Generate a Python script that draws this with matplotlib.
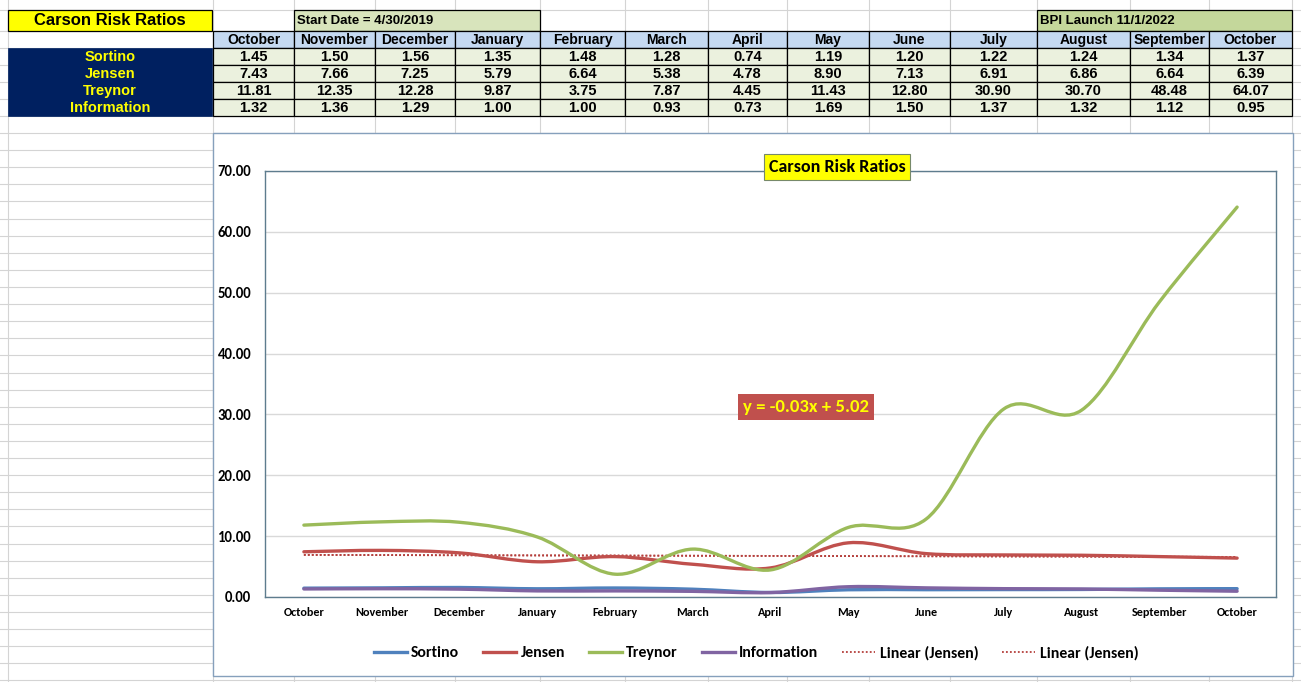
import numpy as np
import matplotlib
matplotlib.use("Agg")
import matplotlib.pyplot as plt
from matplotlib.path import Path
from matplotlib.patches import PathPatch, Rectangle
from matplotlib.lines import Line2D
import logging
logging.getLogger("matplotlib.font_manager").setLevel(logging.ERROR)

# ---------------- data ----------------
months = ["October", "November", "December", "January", "February", "March", "April",
          "May", "June", "July", "August", "September", "October"]
sortino = [1.45, 1.50, 1.56, 1.35, 1.48, 1.28, 0.74, 1.19, 1.20, 1.22, 1.24, 1.34, 1.37]
jensen = [7.43, 7.66, 7.25, 5.79, 6.64, 5.38, 4.78, 8.90, 7.13, 6.91, 6.86, 6.64, 6.39]
treynor = [11.81, 12.35, 12.28, 9.87, 3.75, 7.87, 4.45, 11.43, 12.80, 30.90, 30.70, 48.48, 64.07]
information = [1.32, 1.36, 1.29, 1.00, 1.00, 0.93, 0.73, 1.69, 1.50, 1.37, 1.32, 1.12, 0.95]
row_names = ["Sortino", "Jensen", "Treynor", "Information"]
sheet_title = "Carson Risk Ratios"
start_note = "Start Date = 4/30/2019"
bpi_note = "BPI Launch 11/1/2022"
chart_title = "Carson Risk Ratios"
trend_label = "y = -0.03x + 5.02"
yticks = [0, 10, 20, 30, 40, 50, 60, 70]

series = [("Sortino", sortino, "#4F81BD"),
          ("Jensen", jensen, "#C0504D"),
          ("Treynor", treynor, "#9BBB59"),
          ("Information", information, "#8064A2")]

CHART_FONT = ["Carlito", "Lato", "DejaVu Sans"]
TABLE_FONT = ["Liberation Sans Narrow", "Liberation Sans", "DejaVu Sans"]

W, H = 1301, 682
fig = plt.figure(figsize=(W / 100, H / 100), dpi=100)
fig.patch.set_facecolor("white")

# ---------------- spreadsheet background ----------------
bg = fig.add_axes([0, 0, 1, 1], zorder=0)
bg.set_xlim(0, W)
bg.set_ylim(H, 0)
bg.axis("off")

col_x = [213, 294, 375, 455, 540, 625, 708, 787, 869, 950, 1037, 1130, 1209, 1292]
grid_c = "#D4D4D4"
row_top = 9.5
row1_bot = 30.5
rh = 17.1
hlines = [row_top, row1_bot]
y = row1_bot
while y < H:
    y += rh
    hlines.append(y)
for yy in hlines:
    bg.plot([0, W], [yy, yy], color=grid_c, lw=0.8, zorder=0)
for xx in [8] + col_x:
    bg.plot([xx, xx], [0, H], color=grid_c, lw=0.8, zorder=0)

# title cells row
bg.add_patch(Rectangle((8, row_top), 204, row1_bot - row_top, facecolor="#FFFF00",
                       edgecolor="black", lw=0.9, zorder=2))
bg.text(110, (row_top + row1_bot) / 2 + 0.5, sheet_title, ha="center", va="center",
        fontsize=12, fontweight="bold", family=TABLE_FONT, zorder=3)
bg.add_patch(Rectangle((294, row_top), 246, row1_bot - row_top, facecolor="#D8E4BC",
                       edgecolor="black", lw=0.9, zorder=2))
bg.text(297, (row_top + row1_bot) / 2 + 1, start_note, ha="left", va="center",
        fontsize=9.5, fontweight="bold", family=TABLE_FONT, zorder=3)
bg.add_patch(Rectangle((1037, row_top), 255, row1_bot - row_top, facecolor="#C4D79B",
                       edgecolor="black", lw=0.9, zorder=2))
bg.text(1040, (row_top + row1_bot) / 2 + 1, bpi_note, ha="left", va="center",
        fontsize=9.5, fontweight="bold", family=TABLE_FONT, zorder=3)

# header row
hy0 = row1_bot
for i, m in enumerate(months):
    x0, x1 = col_x[i], col_x[i + 1]
    bg.add_patch(Rectangle((x0, hy0), x1 - x0, rh, facecolor="#C5D9F1",
                           edgecolor="black", lw=0.9, zorder=2))
    bg.text((x0 + x1) / 2, hy0 + rh / 2 + 0.5, m, ha="center", va="center",
            fontsize=10, fontweight="bold", family=TABLE_FONT, zorder=3)

# data rows
data_rows = [sortino, jensen, treynor, information]
dy0 = hy0 + rh
bg.add_patch(Rectangle((8, dy0), 204, rh * 4, facecolor="#002060",
                       edgecolor="#002060", lw=0.5, zorder=2))
for r, (name, vals) in enumerate(zip(row_names, data_rows)):
    yy0 = dy0 + r * rh
    bg.text(110, yy0 + rh / 2 + 0.5, name, ha="center", va="center", color="#FFFF00",
            fontsize=10.5, fontweight="bold", family=TABLE_FONT, zorder=3)
    for i, v in enumerate(vals):
        x0, x1 = col_x[i], col_x[i + 1]
        bg.add_patch(Rectangle((x0, yy0), x1 - x0, rh, facecolor="#EBF1DE",
                               edgecolor="black", lw=0.9, zorder=2))
        bg.text((x0 + x1) / 2, yy0 + rh / 2 + 0.5, f"{v:.2f}", ha="center", va="center",
                fontsize=10.5, fontweight="bold", family=TABLE_FONT, zorder=3)

# chart area
bg.add_patch(Rectangle((213, 133), 1080, 543, facecolor="white",
                       edgecolor="#86A0BC", lw=1.0, zorder=4))

# ---------------- chart ----------------
px0, px1, py0, py1 = 265, 1276, 171, 597
ax = fig.add_axes([px0 / W, (H - py1) / H, (px1 - px0) / W, (py1 - py0) / H], zorder=1)
ax.set_facecolor("white")
x = np.arange(len(months))


def smooth_path(xs, ys):
    n = len(xs)
    verts = [(xs[0], ys[0])]
    codes = [Path.MOVETO]
    for i in range(n - 1):
        a = i - 1 if i > 0 else i
        d = i + 2 if i + 2 < n else i + 1
        c1 = (xs[i] + (xs[i + 1] - xs[a]) / 6.0, ys[i] + (ys[i + 1] - ys[a]) / 6.0)
        c2 = (xs[i + 1] - (xs[d] - xs[i]) / 6.0, ys[i + 1] - (ys[d] - ys[i]) / 6.0)
        verts += [c1, c2, (xs[i + 1], ys[i + 1])]
        codes += [Path.CURVE4] * 3
    return Path(verts, codes)


handles = []
for name, vals, col in series:
    patch = PathPatch(smooth_path(x, np.asarray(vals, float)), facecolor="none",
                      edgecolor=col, lw=2.4, capstyle="round", joinstyle="round", zorder=3)
    ax.add_patch(patch)
    handles.append(Line2D([], [], color=col, lw=2.4, label=name))

# linear trendlines of Jensen (two identical)
coef = np.polyfit(x, jensen, 1)
trend = np.polyval(coef, x)
for k in range(2):
    ax.plot(x, trend, color="#B5403D", lw=1.3, ls=(0, (1, 1.2)), zorder=2)
    handles.append(Line2D([], [], color="#B5403D", lw=1.3, ls=(0, (1, 1.2)),
                          label="Linear (Jensen)"))

ax.set_xlim(-0.5, len(months) - 0.5)
ax.set_ylim(0, 70)
ax.set_yticks(yticks)
ax.set_yticklabels([f"{t:.2f}" for t in yticks])
ax.set_xticks(x)
ax.set_xticklabels(months)
ax.grid(axis="y", color="#D9D9D9", lw=1.0, zorder=0)
ax.set_axisbelow(True)
for s in ax.spines.values():
    s.set_color("#5E7C8E")
    s.set_linewidth(1.0)
ax.tick_params(axis="y", length=0, pad=10)
ax.tick_params(axis="x", length=0, pad=7)
for lab in ax.get_yticklabels():
    lab.set_family(CHART_FONT)
    lab.set_fontweight("bold")
    lab.set_fontsize(10.7)
for lab in ax.get_xticklabels():
    lab.set_family(CHART_FONT)
    lab.set_fontweight("bold")
    lab.set_fontsize(8.7)

# title
fig.text(837 / W, (H - 167) / H, chart_title, ha="center", va="center", fontsize=13,
         fontweight="bold", family=CHART_FONT, zorder=10,
         bbox=dict(boxstyle="square,pad=0.25", facecolor="#FFFF00", edgecolor="#77896A", lw=0.8))

# trend equation
fig.text(806 / W, (H - 407) / H, trend_label, ha="center", va="center", fontsize=13.5,
         fontweight="bold", family=CHART_FONT, color="#FFFF00", zorder=10,
         bbox=dict(boxstyle="square,pad=0.25", facecolor="#C0504D", edgecolor="none"))

# legend
leg = fig.legend(handles=handles, loc="center", bbox_to_anchor=(756 / W, (H - 653) / H),
                 ncol=6, frameon=False, handlelength=2.1, handletextpad=0.3,
                 columnspacing=1.5, prop=dict(family=CHART_FONT, weight="bold", size=11.3))
leg.set_zorder(10)

fig.savefig("out.png", dpi=100, facecolor="white")
